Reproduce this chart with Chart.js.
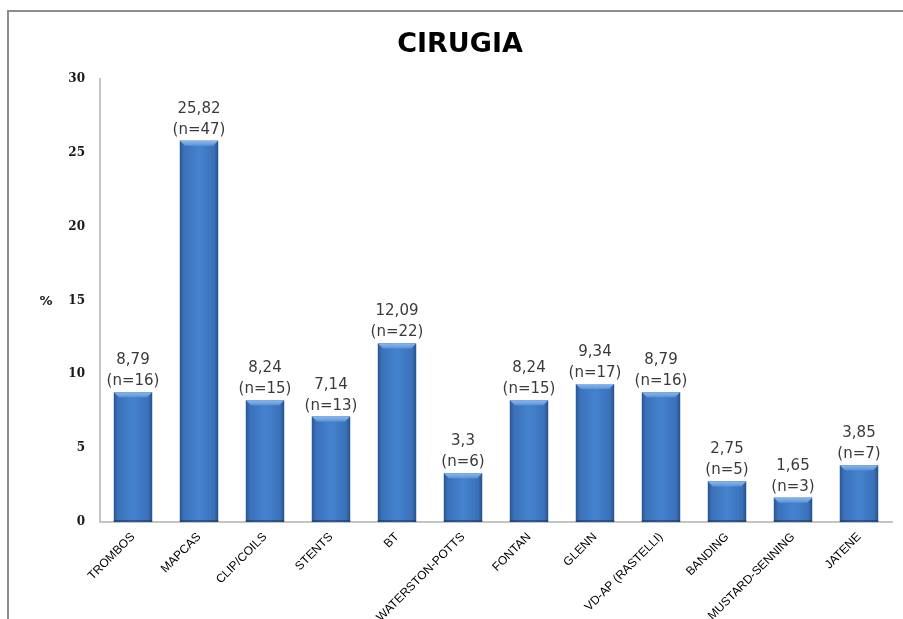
<!DOCTYPE html>
<html>
<head>
<meta charset="utf-8">
<title>CIRUGIA</title>
<script src="https://cdn.jsdelivr.net/npm/chart.js@4/dist/chart.umd.min.js"></script>
<style>
  html, body { margin: 0; padding: 0; background: #fff; overflow: hidden; }
  #frame {
    position: absolute; left: 7px; top: 10px; width: 1000px; height: 1000px;
    border: 2px solid #8c8c8c; box-sizing: border-box;
  }
  #chart { position: absolute; left: 0; top: 0; }
</style>
</head>
<body>
<div id="frame"></div>
<canvas id="chart" width="903" height="619"></canvas>
<script>
const chartTitle = 'CIRUGIA';
const categories = ['TROMBOS', 'MAPCAS', 'CLIP/COILS', 'STENTS', 'BT', 'WATERSTON-POTTS',
  'FONTAN', 'GLENN', 'VD-AP (RASTELLI)', 'BANDING', 'MUSTARD-SENNING', 'JATENE'];
const percents = [8.79, 25.82, 8.24, 7.14, 12.09, 3.3, 8.24, 9.34, 8.79, 2.75, 1.65, 3.85];
const counts = [16, 47, 15, 13, 22, 6, 15, 17, 16, 5, 3, 7];
const yTicks = [0, 5, 10, 15, 20, 25, 30];

// bevelled blue look for each bar, drawn over the plain bar rectangle
const barShading = {
  id: 'barShading',
  afterDatasetsDraw(chart) {
    const ctx = chart.ctx;
    chart.getDatasetMeta(0).data.forEach(bar => {
      const left = bar.x - bar.width / 2;
      const right = bar.x + bar.width / 2;
      const top = bar.y, bottom = bar.base;
      const g = ctx.createLinearGradient(left, 0, right, 0);
      g.addColorStop(0, '#2a5692');
      g.addColorStop(0.1, '#3a70b8');
      g.addColorStop(0.5, '#4583cf');
      g.addColorStop(0.9, '#3a70b8');
      g.addColorStop(1, '#26508a');
      ctx.save();
      ctx.fillStyle = g;
      ctx.fillRect(left, top, bar.width, bottom - top);
      // top bevel
      const bev = Math.min(5, (bottom - top) / 2);
      const tg = ctx.createLinearGradient(0, top, 0, top + bev);
      tg.addColorStop(0, '#8cb8ec');
      tg.addColorStop(1, '#5b93d8');
      ctx.fillStyle = tg;
      ctx.beginPath();
      ctx.moveTo(left, top);
      ctx.lineTo(right, top);
      ctx.lineTo(right - bev, top + bev);
      ctx.lineTo(left + bev, top + bev);
      ctx.closePath();
      ctx.fill();
      // dark bottom edge
      ctx.fillStyle = 'rgba(20,45,85,0.5)';
      ctx.fillRect(left, bottom - 2, bar.width, 2);
      ctx.restore();
    });
  }
};

// title, value and count above every bar, and the horizontal "%" axis label
const barLabels = {
  id: 'barLabels',
  afterDraw(chart) {
    const ctx = chart.ctx;
    ctx.save();
    ctx.textAlign = 'center';
    ctx.textBaseline = 'alphabetic';
    ctx.font = 'bold 27px "DejaVu Sans"';
    ctx.fillStyle = '#000';
    ctx.fillText(chartTitle, 460, 52);

    ctx.font = '15px "DejaVu Sans"';
    ctx.fillStyle = '#3a3a3a';
    chart.getDatasetMeta(0).data.forEach((bar, i) => {
      const val = String(percents[i]).replace('.', ',');
      ctx.fillText('(n=' + counts[i] + ')', bar.x, bar.y - 7);
      ctx.fillText(val, bar.x, bar.y - 28);
    });
    ctx.font = 'bold 13px "DejaVu Sans"';
    ctx.fillStyle = '#222';
    ctx.textBaseline = 'middle';
    ctx.fillText('%', 46, chart.scales.y.getPixelForValue(15) + 1);
    ctx.restore();
  }
};

new Chart(document.getElementById('chart'), {
  type: 'bar',
  data: {
    labels: categories,
    datasets: [{
      data: percents,
      backgroundColor: '#3f7cc8',
      borderWidth: 0,
      categoryPercentage: 1,
      barPercentage: 0.58
    }]
  },
  options: {
    responsive: false,
    animation: false,
    layout: { padding: { left: 0, right: 11, top: 79, bottom: 0 } },
    plugins: {
      legend: { display: false },
      tooltip: { enabled: false },
      title: { display: false }
    },
    scales: {
      x: {
        grid: { display: false, drawTicks: false },
        border: { display: true, color: '#c4c4c4', width: 2 },
        ticks: {
          autoSkip: false,
          minRotation: 45,
          maxRotation: 45,
          padding: 8,
          color: '#000',
          font: { family: '"Liberation Sans"', size: 12 }
        },
        afterFit: scale => { scale.height = 97; }
      },
      y: {
        min: 0,
        max: 30,
        afterBuildTicks: scale => { scale.ticks = yTicks.map(v => ({ value: v })); },
        grid: { display: false, drawTicks: false },
        border: { display: true, color: '#c4c4c4', width: 2 },
        ticks: {
          padding: 15,
          color: '#1a1a1a',
          font: { family: '"DejaVu Serif"', size: 12, weight: 'bold' }
        },
        afterFit: scale => { scale.width = 100; }
      }
    }
  },
  plugins: [barShading, barLabels]
});
</script>
</body>
</html>
